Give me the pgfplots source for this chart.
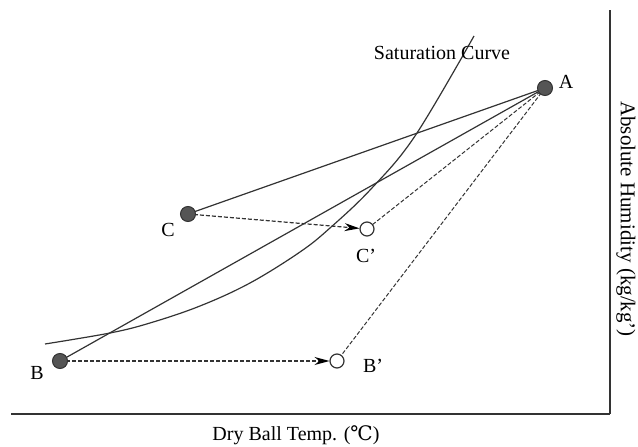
\documentclass[border=0pt]{standalone}
\usepackage{pgfplots}
\pgfplotsset{compat=1.18}
\usepackage{fontspec}
\setmainfont{Liberation Serif}
\newfontfamily\dvs{DejaVu Serif}
\usetikzlibrary{arrows.meta}

\definecolor{ink}{HTML}{333333}
\definecolor{dot}{HTML}{555555}

\begin{document}
\begin{tikzpicture}[font=\fontsize{20}{24}\selectfont]
\begin{axis}[
    scale only axis,
    width=599pt, height=404pt,
    xmin=11, xmax=610,
    ymin=0, ymax=404,
    axis x line=bottom,
    axis y line=right,
    axis line style={-, line width=1.5pt, color=ink},
    xtick=\empty, ytick=\empty,
    clip=false,
]

% saturation curve
\addplot[ink, line width=1.2pt, smooth, tension=0.6] coordinates {
    (45,70) (110,81) (150,91) (200,108) (250,131) (300,162)
    (330,186) (371,225) (415,278) (474,378)
};

% mixing lines from A
\addplot[ink, line width=1.2pt] coordinates {(545,326) (188,200)};
\addplot[ink, line width=1.2pt] coordinates {(545,326) (60,53)};
\addplot[ink, line width=1pt, dash pattern=on 4pt off 2pt] coordinates {(545,326) (367,185)};
\addplot[ink, line width=1pt, dash pattern=on 4pt off 2pt] coordinates {(545,326) (337,53)};

% heating paths
\addplot[ink, line width=1.2pt, dash pattern=on 4pt off 2pt,
    -{Stealth[length=15pt,width=8pt,black]}, shorten >=7.5pt]
    coordinates {(188,200) (367,185)};
\addplot[ink, line width=1.2pt, dash pattern=on 4pt off 2pt,
    -{Stealth[length=15pt,width=8pt,black]}, shorten >=7.5pt]
    coordinates {(60,53) (337,53)};

% state points
\addplot[only marks, mark=*, mark size=7.5pt,
    mark options={fill=dot, draw=ink, line width=1pt}]
    coordinates {(545,326) (188,200) (60,53)};
\addplot[only marks, mark=*, mark size=7pt,
    mark options={fill=white, draw=ink, line width=1.2pt}]
    coordinates {(367,185) (337,53)};

% labels
\node at (axis cs:566,332) {A};
\node at (axis cs:168,184) {C};
\node at (axis cs:366,158) {C’};
\node at (axis cs:37,41) {B};
\node at (axis cs:373,48) {B’};
\node at (axis cs:442,361) {Saturation Curve};
\node at (axis cs:296,-21) {Dry Ball Temp. ({\dvs ℃})};
\node[rotate=-90, inner sep=0pt, font=\fontsize{21}{24}\selectfont]
    at (axis cs:626,195) {Absolute Humidity (kg/kg’)};

\coordinate (bl) at (axis cs:0,-33);
\coordinate (tr) at (axis cs:638,414);
\end{axis}
\pgfresetboundingbox
\path[use as bounding box] (bl) rectangle (tr);
\end{tikzpicture}
\end{document}
